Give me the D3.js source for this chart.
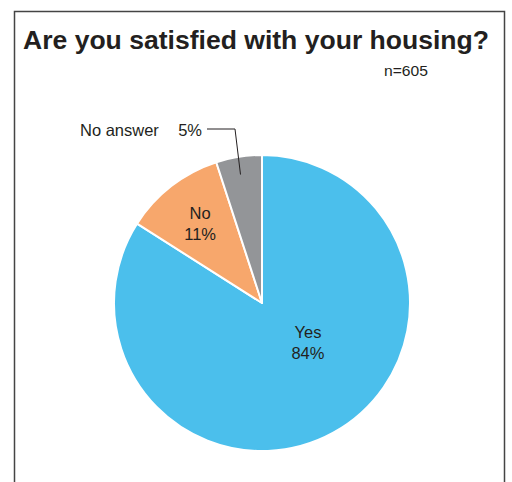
<!DOCTYPE html>
<html>
<head>
<meta charset="utf-8">
<script src="https://cdn.jsdelivr.net/npm/d3@7/dist/d3.min.js"></script>
<style>
  html, body { margin: 0; padding: 0; background: #fff; }
  svg { display: block; font-family: "Liberation Sans", Arial, sans-serif; }
</style>
</head>
<body>
<svg id="chart" width="512" height="482"></svg>
<script>
// Survey answers
const categories = ["Yes", "No", "No answer"];
const percents = [84, 11, 5];
const colors = ["#4bbfec", "#f7a76c", "#939598"];
const title = "Are you satisfied with your housing?";
const sampleNote = "n=605";

const svg = d3.select("#chart");
const W = 512, H = 482;

// Frame around the chart
svg.append("path")
  .attr("d", `M14.5,${H + 2} V11.5 H504.5 V${H + 2}`)
  .attr("fill", "none")
  .attr("stroke", "#444")
  .attr("stroke-width", 1.5);

svg.append("text")
  .attr("x", 23).attr("y", 49)
  .attr("font-size", 25.5).attr("font-weight", "bold")
  .attr("fill", "#231f20")
  .attr("textLength", 466)
  .attr("lengthAdjust", "spacingAndGlyphs")
  .text(title);

svg.append("text")
  .attr("x", 384).attr("y", 76)
  .attr("font-size", 15).attr("fill", "#231f20")
  .attr("textLength", 44)
  .attr("lengthAdjust", "spacingAndGlyphs")
  .text(sampleNote);

const cx = 262, cy = 303, R = 148;
const data = categories.map((c, i) => ({ name: c, value: percents[i], color: colors[i] }));

const pie = d3.pie().value(d => d.value).sort(null);
const arcs = pie(data);
const arc = d3.arc().innerRadius(0).outerRadius(R);

const g = svg.append("g").attr("transform", `translate(${cx},${cy})`);

g.selectAll("path.slice")
  .data(arcs)
  .join("path")
  .attr("class", "slice")
  .attr("d", arc)
  .attr("fill", d => d.data.color)
  .attr("stroke", "#fff")
  .attr("stroke-width", 2)
  .attr("stroke-linejoin", "round");

// Label placement: inside labels sit at a radius/angle in polar terms
function polar(r, a) { return [r * Math.sin(a), -r * Math.cos(a)]; }
const deg = Math.PI / 180;

// Yes
const yesPos = polar(60, 130 * deg);
// No (at its mid angle)
const noArc = arcs[1];
const noPos = polar(101, (noArc.startAngle + noArc.endAngle) / 2);

[[arcs[0], yesPos], [arcs[1], noPos]].forEach(([a, p]) => {
  const t = g.append("text")
    .attr("text-anchor", "middle")
    .attr("font-size", 16.5)
    .attr("fill", "#231f20");
  t.append("tspan").attr("x", p[0]).attr("y", p[1] - 4).text(a.data.name);
  t.append("tspan").attr("x", p[0]).attr("y", p[1] + 17).text(a.data.value + "%");
});

// No answer: outside label with leader line
const naArc = arcs[2];
const naMid = (naArc.startAngle + naArc.endAngle) / 2;
const naIn = polar(R * 0.88, naMid - 0.5 * deg);
const elbow = [235 - cx, 129 - cy];
const lineStart = [207 - cx, 129 - cy];
g.append("polyline")
  .attr("points", [lineStart, elbow, naIn].map(p => p.join(",")).join(" "))
  .attr("fill", "none")
  .attr("stroke", "#231f20")
  .attr("stroke-width", 1);

g.append("text")
  .attr("x", 202 - cx).attr("y", 136 - cy)
  .attr("text-anchor", "end")
  .attr("font-size", 16.5).attr("fill", "#231f20")
  .text(naArc.data.value + "%");
g.append("text")
  .attr("x", 80 - cx).attr("y", 136 - cy)
  .attr("font-size", 16.5).attr("fill", "#231f20")
  .text(naArc.data.name);
</script>
</body>
</html>
